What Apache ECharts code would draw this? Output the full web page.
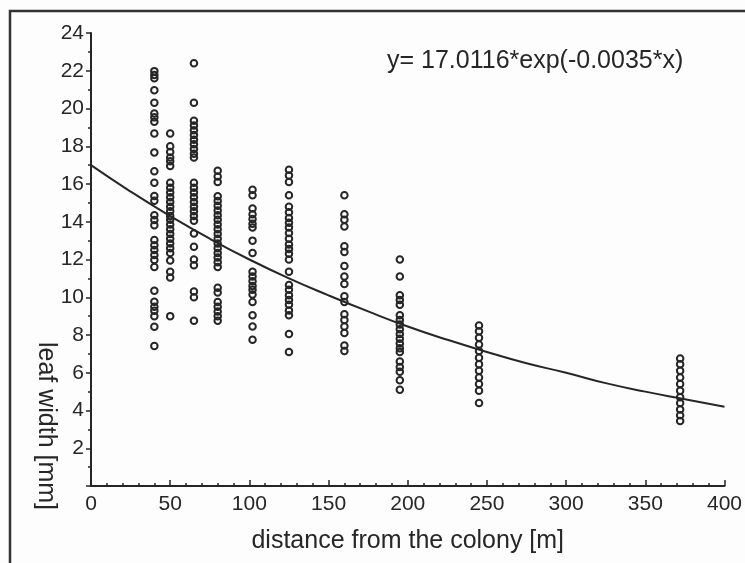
<!DOCTYPE html>
<html>
<head>
<meta charset="utf-8">
<script src="https://cdn.jsdelivr.net/npm/echarts@6/dist/echarts.min.js"></script>
<style>
  html, body { margin: 0; padding: 0; background: #fff; }
  #main { width: 745px; height: 563px; }
</style>
</head>
<body>
<div id="main"></div>
<script>
// distances sampled [m]
var distances = [40, 50, 65, 80, 102, 125, 160, 195, 245, 372];

// leaf widths [mm] read per distance column
var width40 = [21.98, 21.77, 21.6, 20.97, 20.3, 19.74, 19.53, 19.3, 18.68, 17.67, 16.68, 16.06,
    15.36, 15.11, 14.35, 14.09, 13.82, 13.03, 12.76, 12.5, 12.24, 11.97, 11.6, 10.35, 9.76, 9.5,
    9.29, 9.0, 8.44, 7.42];
var width50 = [18.68, 18.0, 17.7, 17.4, 17.2, 16.95, 16.06, 15.8, 15.55, 15.3, 15.05, 14.8, 14.55,
    14.3, 14.1, 13.85, 13.6, 13.35, 13.1, 12.85, 12.6, 12.35, 11.95, 11.35, 11.05, 9.0];
var width65 = [22.4, 20.3, 19.35, 19.1, 18.85, 18.6, 18.35, 18.1, 17.85, 17.6, 17.4, 16.06, 15.8,
    15.55, 15.3, 15.05, 14.8, 14.55, 14.3, 14.05, 13.38, 12.68, 12.0, 11.7, 10.3, 10.0, 8.76];
var width80 = [16.7, 16.4, 16.1, 15.35, 15.1, 14.85, 14.6, 14.35, 14.1, 13.85, 13.6, 13.35, 13.1,
    12.85, 12.6, 12.35, 12.1, 11.85, 11.6, 10.5, 10.25, 9.75, 9.5, 9.25, 9.0, 8.75];
var width102 = [15.7, 15.4, 14.7, 14.4, 14.15, 13.9, 13.7, 13.0, 12.35, 11.35, 11.1, 10.85, 10.6,
    10.4, 10.15, 9.75, 9.05, 8.45, 7.75];
var width125 = [16.75, 16.45, 16.1, 15.4, 14.8, 14.5, 14.2, 13.95, 13.7, 13.4, 13.1, 12.8, 12.55,
    12.3, 12.0, 11.35, 10.65, 10.4, 10.1, 9.85, 9.6, 9.3, 9.05, 8.05, 7.1];
var width160 = [15.4, 14.4, 14.1, 13.75, 12.7, 12.4, 11.65, 11.1, 10.7, 10.05, 9.75, 9.1, 8.8,
    8.45, 8.1, 7.45, 7.15];
var width195 = [12.0, 11.1, 10.1, 9.85, 9.6, 9.05, 8.8, 8.55, 8.3, 8.05, 7.8, 7.55, 7.3, 7.1, 6.6,
    6.3, 6.05, 5.6, 5.1];
var width245 = [8.5, 8.2, 7.85, 7.5, 7.15, 6.8, 6.45, 6.1, 5.75, 5.4, 5.05, 4.4];
var width372 = [6.75, 6.45, 6.1, 5.75, 5.4, 5.05, 4.7, 4.4, 4.05, 3.75, 3.45];

var widthColumns = [width40, width50, width65, width80, width102, width125, width160, width195,
    width245, width372];

// fitted curve
var curveX = [0, 25, 50, 75, 100, 125, 150, 175, 200, 225, 250, 275, 300, 325, 350, 375, 400];
var curveY = [17.0, 15.6, 14.3, 13.1, 12.0, 11.0, 10.1, 9.25, 8.45, 7.75, 7.1, 6.5, 6.0, 5.45, 5.0, 4.6, 4.2];

var xTicks = [0, 50, 100, 150, 200, 250, 300, 350, 400];
var yTicks = [2, 4, 6, 8, 10, 12, 14, 16, 18, 20, 22, 24];

var equation = 'y= 17.0116*exp(-0.0035*x)';

var points = [];
distances.forEach(function (d, i) {
    widthColumns[i].forEach(function (w) {
        points.push([d, w]);
    });
});
var curve = curveX.map(function (x, i) { return [x, curveY[i]]; });

var ink = '#262626';
var font = '"Liberation Sans", Arial, sans-serif';

var chart = echarts.init(document.getElementById('main'), null, { renderer: 'canvas' });
chart.setOption({
    backgroundColor: '#fdfdfd',
    animation: false,
    grid: { left: 91, right: 17, top: 33, bottom: 77 },
    xAxis: {
        type: 'value',
        min: xTicks[0],
        max: xTicks[xTicks.length - 1],
        interval: 50,
        name: 'distance from the colony [m]',
        nameLocation: 'middle',
        nameGap: 43,
        nameTextStyle: { color: ink, fontSize: 25, fontFamily: font },
        axisLine: { lineStyle: { color: ink, width: 2 } },
        axisTick: { inside: true, length: 6, lineStyle: { color: ink, width: 1.5 } },
        minorTick: { show: true, splitNumber: 5, length: 3, lineStyle: { color: ink, width: 1.5 } },
        axisLabel: { color: ink, fontSize: 21, fontFamily: font, margin: 8 },
        splitLine: { show: false }
    },
    yAxis: {
        type: 'value',
        min: 0,
        max: yTicks[yTicks.length - 1],
        interval: 2,
        axisLine: { show: true, lineStyle: { color: ink, width: 2 } },
        axisTick: { show: true, inside: false, length: 5, lineStyle: { color: ink, width: 1.5 } },
        minorTick: { show: true, splitNumber: 2, length: 3, lineStyle: { color: ink, width: 1.5 } },
        axisLabel: {
            color: ink, fontSize: 21, fontFamily: font, margin: 7,
            formatter: function (v) { return yTicks.indexOf(v) >= 0 ? String(v) : ''; }
        },
        splitLine: { show: false }
    },
    graphic: [
        {
            // figure frame: only the left and top edges are visible in the scan
            type: 'polyline',
            shape: { points: [[10, 563], [10, 11], [745, 11]] },
            style: { fill: 'none', stroke: '#333', lineWidth: 2.5 },
            silent: true
        },
        {
            type: 'text',
            x: 46, y: 426,
            rotation: -Math.PI / 2,
            style: {
                text: 'leaf width [mm]', fill: ink, fontSize: 25, fontFamily: font,
                align: 'center', verticalAlign: 'middle'
            }
        },
        {
            type: 'text',
            x: 387, y: 61,
            style: {
                text: equation, fill: ink, fontSize: 25, fontFamily: font,
                align: 'left', verticalAlign: 'middle'
            }
        }
    ],
    series: [
        {
            type: 'line',
            data: curve,
            smooth: true,
            showSymbol: false,
            lineStyle: { color: ink, width: 2 },
            z: 3
        },
        {
            type: 'scatter',
            data: points,
            symbol: 'circle',
            symbolSize: 6.5,
            itemStyle: { color: 'rgba(255,255,255,0)', borderColor: ink, borderWidth: 2, opacity: 1 },
            z: 2
        }
    ]
});
</script>
</body>
</html>
